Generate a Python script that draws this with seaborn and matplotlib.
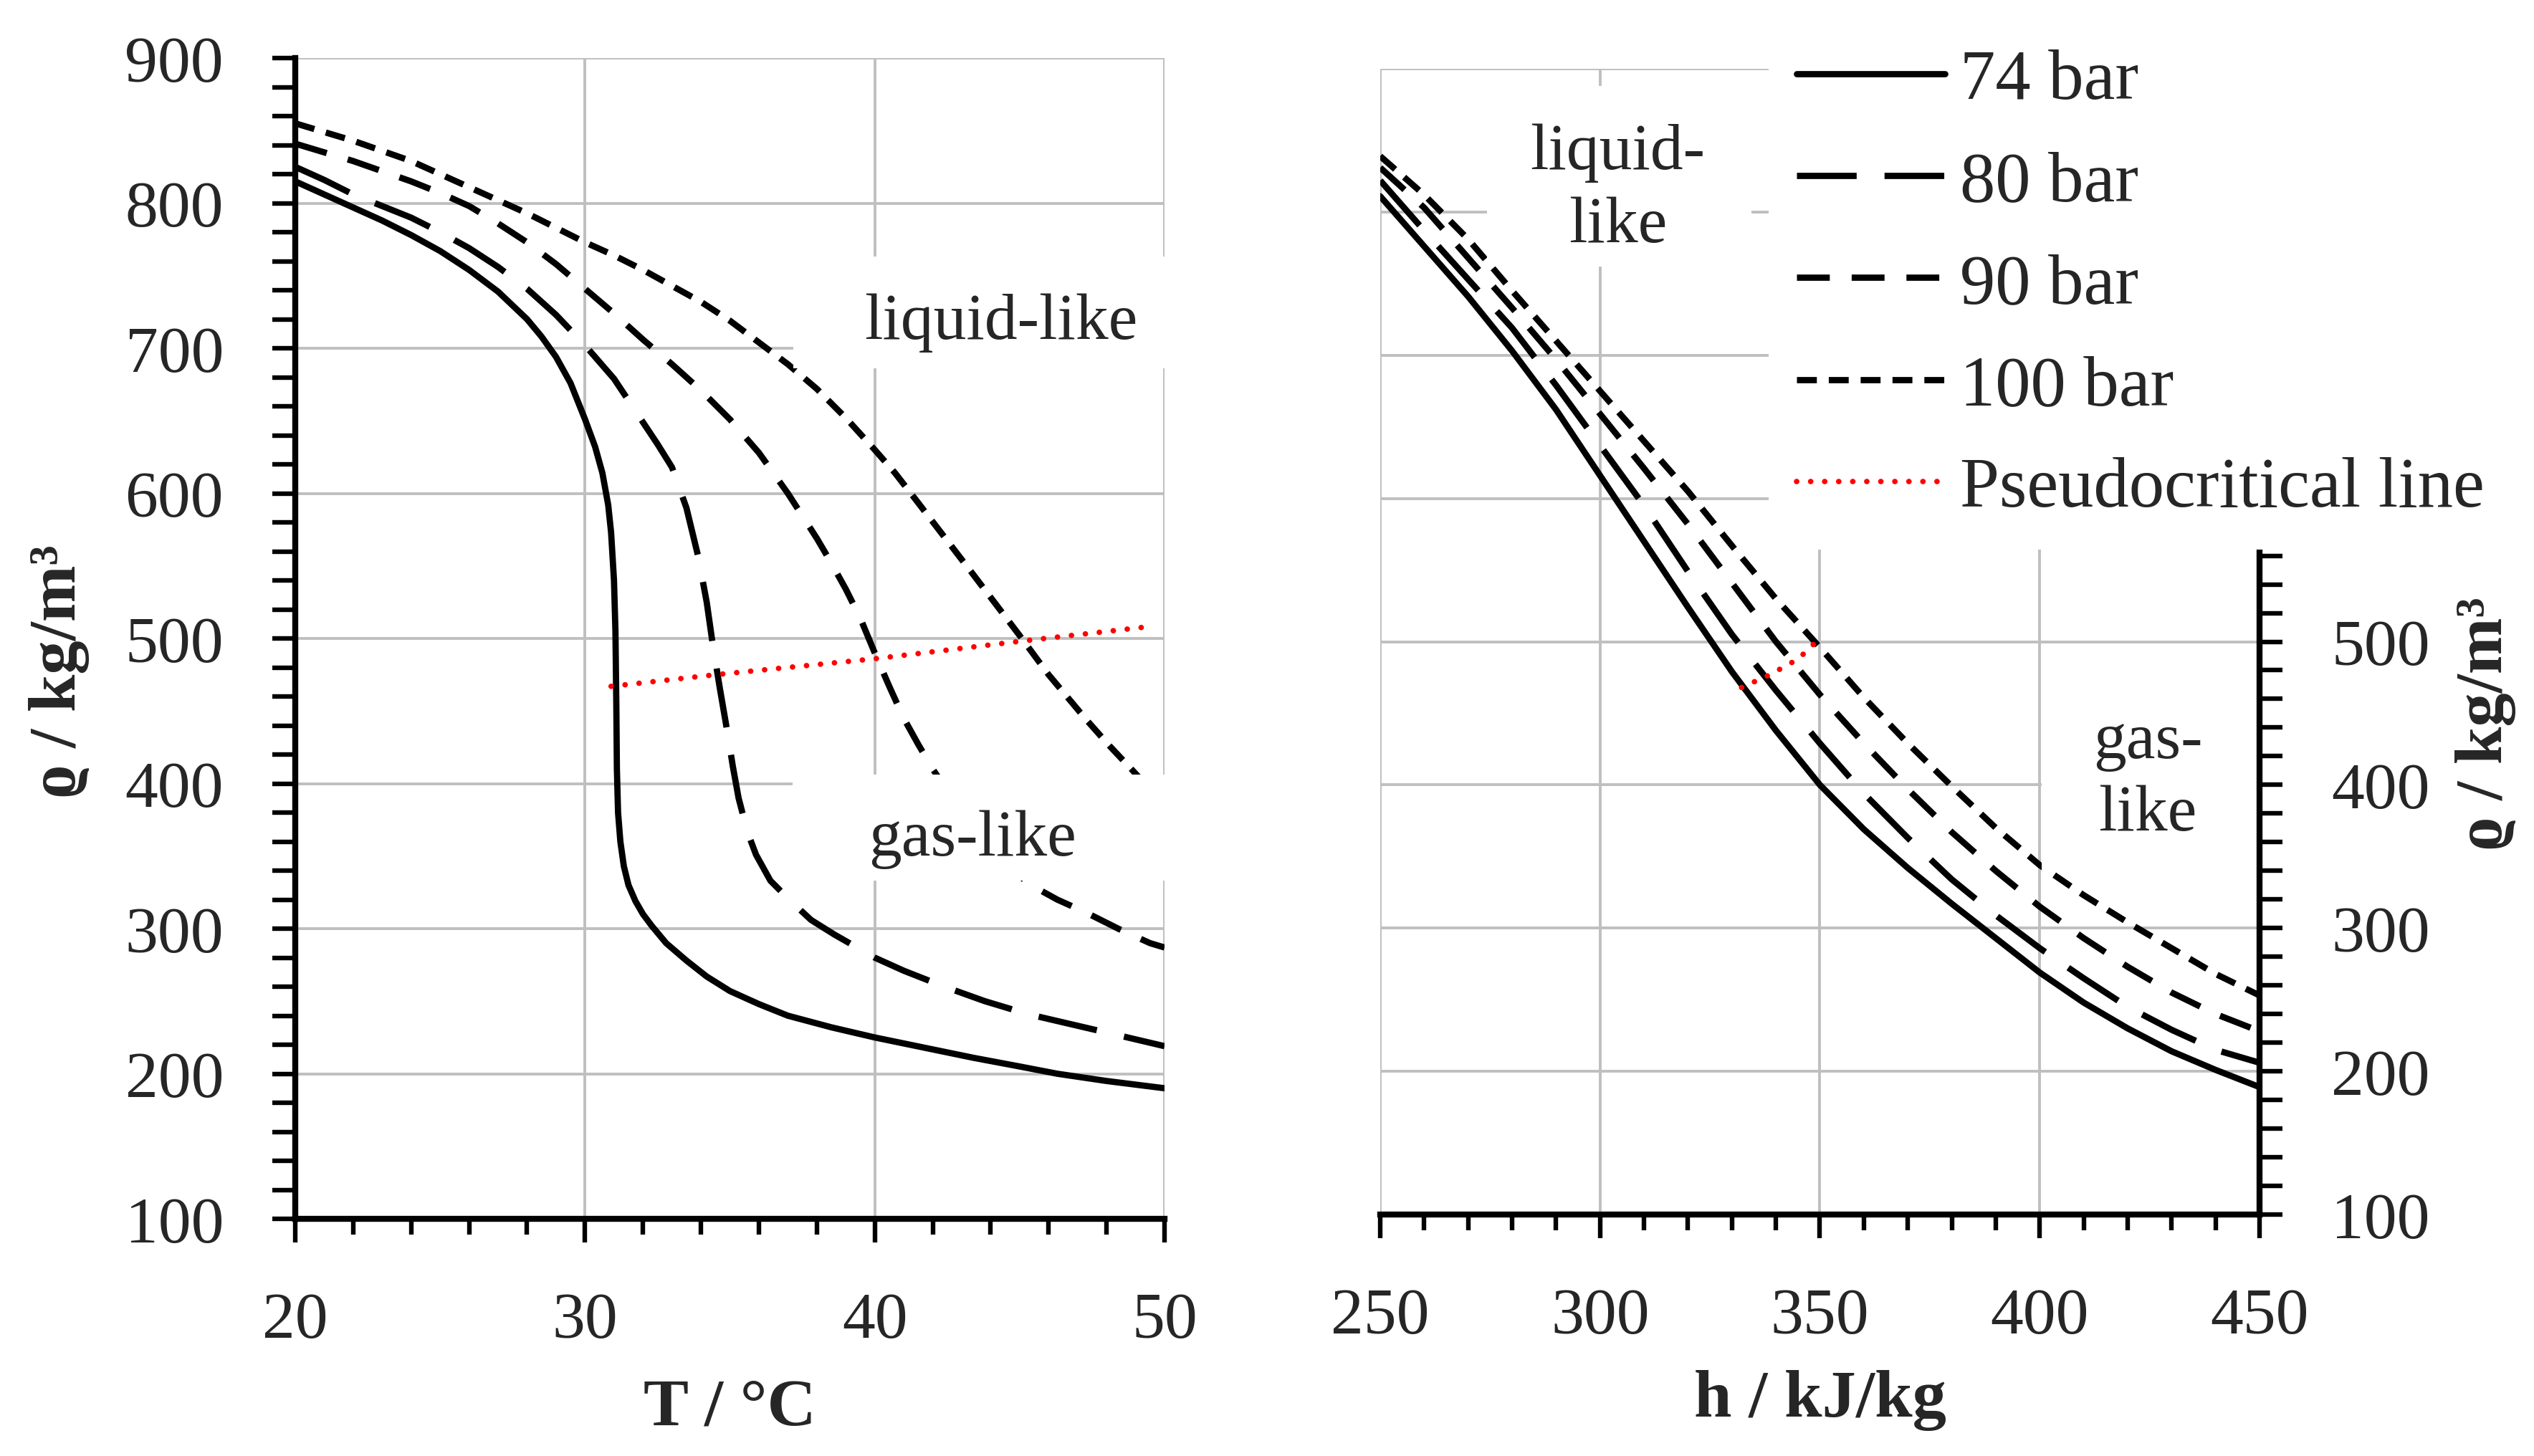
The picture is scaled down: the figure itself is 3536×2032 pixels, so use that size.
import matplotlib
matplotlib.use("Agg")
import matplotlib.pyplot as plt
from matplotlib.patches import Rectangle
from matplotlib.ticker import MultipleLocator, FuncFormatter
import seaborn as sns

# ---- density vs temperature (left panel) ----
t_74 = [20, 21, 22, 23, 24, 25, 26, 27, 28, 28.5, 29, 29.5, 30, 30.35, 30.6, 30.8, 30.9, 31.0,
        31.05, 31.08, 31.1, 31.14, 31.22, 31.34, 31.5, 31.74, 32.0, 32.3, 32.8, 33.5, 34.2, 35.0,
        36.0, 37.0, 38.5, 40.0, 41.7, 43.4, 45.0, 46.3, 48.0, 50.0]
rho_t_74 = [815, 806, 797, 788, 778, 767, 754, 739, 720, 708, 694, 676, 651, 632, 614, 592, 573, 540,
            505, 455, 410, 380, 360, 343, 330, 319, 310, 302, 290, 278, 267, 257,
            248, 240, 232, 225, 218, 211, 205, 200, 195, 190]

t_80 = [20, 21, 22, 23, 24, 25, 26, 27, 28, 29, 30, 31, 32, 32.5, 33, 33.5, 33.9, 34.2, 34.4, 34.65,
        34.9, 35.1, 35.3, 35.6, 35.9, 36.4, 37.1, 37.8, 38.6, 39.3, 40.0, 41.0, 42.4, 43.8, 45.3,
        46.8, 48.3, 50.0]
rho_t_80 = [825, 816, 806, 798, 790, 780, 769, 756, 741, 723, 702, 679, 649, 634, 618, 590, 557, 525, 497, 466,
            437, 412, 390, 367, 351, 333, 319, 306, 296, 288, 280, 271, 260, 250, 241,
            234, 227, 219]

t_90 = [20, 21, 22, 23, 24, 25, 26, 27, 28, 29, 30, 31, 32, 33, 34, 35, 36, 37, 38, 38.5, 39, 39.5,
        40, 40.5, 41, 41.5, 42, 43, 44, 45.3, 46.3, 47.3, 48.4, 49.5, 50.0]
rho_t_90 = [841, 835, 829, 822, 815, 807, 798, 786, 773, 758, 741, 724, 706, 689, 671, 651, 628, 600, 569, 552, 534, 514,
            490, 467, 445, 427, 410, 380, 355, 331, 320, 311, 300, 290, 287]

t_100 = [20, 21, 22, 23, 24, 25, 26, 27, 28, 29, 30, 31, 32, 33, 34, 35, 36, 37, 38, 39, 40, 40.7,
         41.4, 42.4, 43.4, 44.2, 45, 46, 47.3, 48.1, 48.9, 50]
rho_t_100 = [855, 849, 843, 836, 829, 820, 811, 802, 793, 783, 773, 764, 754, 743, 732, 719, 704, 689, 672, 652, 630, 614,
             596, 570, 544, 523, 502, 475, 444, 426, 409, 385]

t_pc = [30.9, 34.5, 40.0, 45.0, 49.4]
rho_t_pc = [467, 475, 486, 498, 508]

# ---- density vs enthalpy (right panel) ----
h_grid = [250, 260, 270, 280, 290, 300, 310, 320, 330, 340, 350, 360, 370, 380, 390, 400, 410, 420, 430, 440, 450]
rho_h_74 = [811, 776, 741, 703, 662, 616, 570, 524, 479, 438, 400, 369, 342, 317, 293, 269, 248, 230, 214, 201, 189]
rho_h_80 = [822, 787, 753, 719, 679, 637, 595, 549, 505, 466, 429, 394, 363, 334, 309, 286, 265, 245, 229, 215, 206]
rho_h_90 = [831, 803, 768, 733, 697, 659, 621, 582, 541, 500, 463, 429, 397, 367, 340, 315, 293, 273, 255, 240, 228]
rho_h_100 = [839, 812, 781, 745, 710, 675, 640, 605, 567, 530, 496, 461, 429, 399, 370, 344, 323, 304, 286, 268, 253]

h_pc = [332.2, 338.7, 345.1, 350.2]
rho_h_pc = [468, 477, 488, 503]

series_labels = ["74 bar", "80 bar", "90 bar", "100 bar"]
pc_label = "Pseudocritical line"

sns.set_theme(style="white")
plt.rcParams["font.family"] = ["Liberation Serif", "DejaVu Serif"]
plt.rcParams["lines.scale_dashes"] = False

# dash patterns in points
styles = [
    "-",
    (0, (60, 28)),
    (0, (33, 22)),
    (0, (20, 12)),
]
pc_style = (0, (0.1, 14))
LW = 6.3
PC_LW = 5.5
FS = 66

fig = plt.figure(figsize=(35.36, 20.33), dpi=100)
ax1 = fig.add_axes([0.11652, 0.16281, 0.34304, 0.79685])
ax2 = fig.add_axes([0.54468, 0.16576, 0.34700, 0.78652])

left_sets = [(t_74, rho_t_74), (t_80, rho_t_80), (t_90, rho_t_90), (t_100, rho_t_100)]
for (x, y), ls in zip(left_sets, styles):
    sns.lineplot(x=x, y=y, ax=ax1, color="black", linewidth=LW, linestyle=ls,
                 sort=False, estimator=None, legend=False)
sns.lineplot(x=t_pc, y=rho_t_pc, ax=ax1, color="red", linewidth=PC_LW, linestyle=pc_style,
             dash_capstyle="round", sort=False, estimator=None, legend=False, zorder=2.1)

right_sets = [rho_h_74, rho_h_80, rho_h_90, rho_h_100]
handles = []
for y, ls, lab in zip(right_sets, styles, series_labels):
    sns.lineplot(x=h_grid, y=y, ax=ax2, color="black", linewidth=LW, linestyle=ls,
                 sort=False, estimator=None, legend=False)
    line = ax2.lines[-1]
    line.set_label(lab)
    handles.append(line)
sns.lineplot(x=h_pc, y=rho_h_pc, ax=ax2, color="red", linewidth=PC_LW, linestyle=pc_style,
             dash_capstyle="round", sort=False, estimator=None, legend=False, zorder=2.1)
pc_line = ax2.lines[-1]
pc_line.set_label(pc_label)
handles.append(pc_line)

for ax in (ax1, ax2):
    ax.set_ylim(100, 900)
    ax.yaxis.set_major_locator(MultipleLocator(100))
    ax.yaxis.set_minor_locator(MultipleLocator(20))
    ax.grid(True, which="major", color="#bfbfbf", linewidth=2.8)
    ax.set_axisbelow(True)
    for s in ax.spines.values():
        s.set_color("black")
        s.set_linewidth(6)
    ax.spines["top"].set_visible(False)
    ax.tick_params(axis="y", which="both", direction="out", length=23, width=4.6,
                   color="black", pad=49, labelsize=FS)
    ax.tick_params(axis="x", which="major", direction="out", length=24, width=4.6,
                   color="black", pad=49, labelsize=FS, bottom=True)
    ax.tick_params(axis="x", which="minor", direction="out", length=15.5, width=4.6,
                   color="black", bottom=True)
    ax.set_facecolor("white")

ax1.tick_params(axis="y", which="both", left=True)
ax1.set_xlim(20, 50)
ax1.xaxis.set_major_locator(MultipleLocator(10))
ax1.xaxis.set_minor_locator(MultipleLocator(2))
ax1.spines["right"].set_visible(False)
ax1.set_xlabel("T / °C", fontsize=68, fontweight="bold", va="baseline")
ax1.xaxis.set_label_coords(0.5, -0.177)
ax1.set_ylabel("ϱ / kg/m³", fontsize=68, fontweight="bold", va="center")
ax1.yaxis.set_label_coords(-0.272, 0.472)

ax2.set_xlim(250, 450)
ax2.xaxis.set_major_locator(MultipleLocator(50))
ax2.xaxis.set_minor_locator(MultipleLocator(10))
ax2.spines["left"].set_visible(False)
ax2.yaxis.tick_right()
ax2.tick_params(axis="y", which="both", right=True, left=False)
ax2.yaxis.set_label_position("right")
ax2.yaxis.set_major_formatter(FuncFormatter(lambda v, p: f"{v:.0f}" if v <= 500 else ""))
ax2.set_xlabel("h / kJ/kg", fontsize=68, fontweight="bold", va="baseline")
ax2.xaxis.set_label_coords(0.5, -0.176)
ax2.set_ylabel("ϱ / kg/m³", fontsize=68, fontweight="bold", va="center", rotation=90)
ax2.yaxis.set_label_coords(1.257, 0.429)

# region labels with white backgrounds
def region(ax, x0, x1, y0, y1, tx, ty, txt):
    ax.add_patch(Rectangle((x0, y0), x1 - x0, y1 - y0, facecolor="white",
                           edgecolor="none", zorder=2.2, clip_on=False))
    ax.text(tx, ty, txt, ha="center", va="center", fontsize=FS, zorder=4,
            linespacing=1.3)

region(ax1, 37.2, 50.4, 686, 763, 44.36, 718, "liquid-like")
region(ax1, 37.16, 50.4, 333, 406, 43.37, 362, "gas-like")
region(ax2, 274.3, 334.5, 762, 888, 304.0, 816, "liquid-\nlike")
region(ax2, 400.4, 449.4, 340, 470, 424.6, 405, "gas-\nlike")

leg = ax2.legend(handles=handles, loc="upper left", bbox_to_anchor=(0.4417, 1.042),
                 bbox_transform=ax2.transAxes, borderaxespad=0, frameon=True,
                 fancybox=False, facecolor="white", edgecolor="none", framealpha=1,
                 borderpad=0.4, handlelength=2.1, handletextpad=0.21,
                 labelspacing=0.53, fontsize=71)
leg.set_zorder(5)

fig.savefig("out.png", dpi=100, facecolor="white")
